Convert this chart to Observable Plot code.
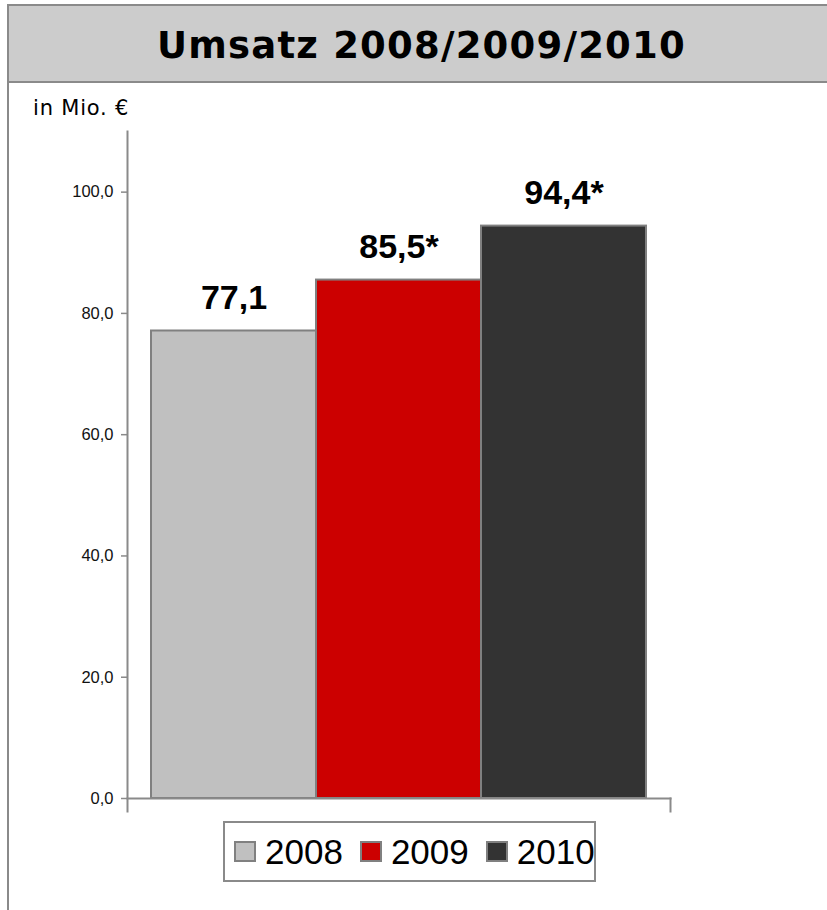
<!DOCTYPE html>
<html>
<head>
<meta charset="utf-8">
<script src="https://cdn.jsdelivr.net/npm/d3@7"></script>
<script src="https://cdn.jsdelivr.net/npm/@observablehq/plot@0.6"></script>
<style>
  html, body { margin: 0; padding: 0; background: #fff; overflow: hidden; }
  #page { position: relative; width: 827px; height: 910px; overflow: hidden; }
  #titlebox { position: absolute; left: 7px; top: 4px; width: 840px; height: 75px;
    background: #cccccc; border: 2px solid #8a8a8a; }
  #title { position: absolute; left: 0; top: 27px; width: 827px; text-align: center;
    font-family: "DejaVu Sans", sans-serif; font-weight: bold; font-size: 37px; line-height: 37px;
    letter-spacing: 1.2px; color: #000; padding-left: 16px; box-sizing: border-box; white-space: nowrap; }
  #leftline { position: absolute; left: 7px; top: 80px; width: 2px; height: 840px; background: #8a8a8a; }
  #unit { position: absolute; left: 33px; top: 98px; font-family: "DejaVu Sans", sans-serif;
    font-size: 21px; line-height: 21px; letter-spacing: 0.8px; color: #000; white-space: nowrap; }
  #chart { position: absolute; left: 0; top: 100px; }
  #legend { position: absolute; left: 223px; top: 821px; width: 373px; height: 61px; box-sizing: border-box;
    border: 2px solid #8a8a8a; background: #fff; display: flex; align-items: center; padding-left: 9px; }
  .item { display: flex; align-items: center; margin-right: 17px; }
  .sw { width: 22px; height: 21px; box-sizing: border-box; border: 2px solid #808080; margin-right: 9px; }
  .lt { font-family: "Liberation Sans", Arial, sans-serif; font-size: 35px; line-height: 35px; color: #000; }
</style>
</head>
<body>
<div id="page">
  <div id="titlebox"></div>
  <div id="title"></div>
  <div id="leftline"></div>
  <div id="unit"></div>
  <div id="chart"></div>
  <div id="legend"></div>
</div>
<script>
const titleText = "Umsatz 2008/2009/2010";
const unitText = "in Mio. €";
const years = ["2008", "2009", "2010"];
const values = [77.1, 85.5, 94.4];
const notes = ["", "*", "*"];
const colors = ["#c0c0c0", "#cc0000", "#333333"];
const yTicks = [0, 20, 40, 60, 80, 100];
const yMax = 110;

const fmt = v => v.toFixed(1).replace(".", ",");
const data = years.map((y, i) => ({year: y, value: values[i], note: notes[i]}));

document.getElementById("title").textContent = titleText;
document.getElementById("unit").textContent = unitText;

const W = 827, H = 720;
const mTop = 31, mBottom = 22, mLeft = 127, mRight = 157;
const plotH = H - mTop - mBottom;

const chart = Plot.plot({
  width: W,
  height: H,
  marginTop: mTop,
  marginBottom: mBottom,
  marginLeft: mLeft,
  marginRight: mRight,
  style: {background: "transparent", overflow: "visible"},
  x: {domain: years, paddingInner: 0, paddingOuter: 0.145, axis: null},
  y: {domain: [0, yMax], axis: null},
  color: {domain: years, range: colors},
  marks: [
    Plot.barY(data, {x: "year", y: "value", fill: "year", stroke: "#808080", strokeWidth: 2}),
    Plot.frame({anchor: "left", stroke: "#8a8a8a", strokeWidth: 2, insetBottom: -13}),
    Plot.frame({anchor: "bottom", stroke: "#8a8a8a", strokeWidth: 2}),
    Plot.frame({anchor: "right", stroke: "#8a8a8a", strokeWidth: 2, insetTop: plotH, insetBottom: -13}),
    Plot.axisY({ticks: yTicks, tickFormat: fmt, label: null, tickSize: 6, tickPadding: 8, stroke: "#8a8a8a",
      fill: "#111", fontSize: 16.5, fontFamily: "Liberation Sans, Arial, sans-serif", strokeWidth: 1.5}),
    Plot.text(data, {x: "year", y: "value", text: d => fmt(d.value) + d.note, dy: -22, lineAnchor: "bottom",
      fontSize: 34, fontWeight: "bold", fontFamily: "Liberation Sans, Arial, sans-serif", fill: "#000"})
  ]
});
document.getElementById("chart").appendChild(chart);

const legend = document.getElementById("legend");
years.forEach((y, i) => {
  const item = document.createElement("div");
  item.className = "item";
  const sw = document.createElement("div");
  sw.className = "sw";
  sw.style.background = colors[i];
  const t = document.createElement("span");
  t.className = "lt";
  t.textContent = y;
  item.appendChild(sw);
  item.appendChild(t);
  legend.appendChild(item);
});
</script>
</body>
</html>
